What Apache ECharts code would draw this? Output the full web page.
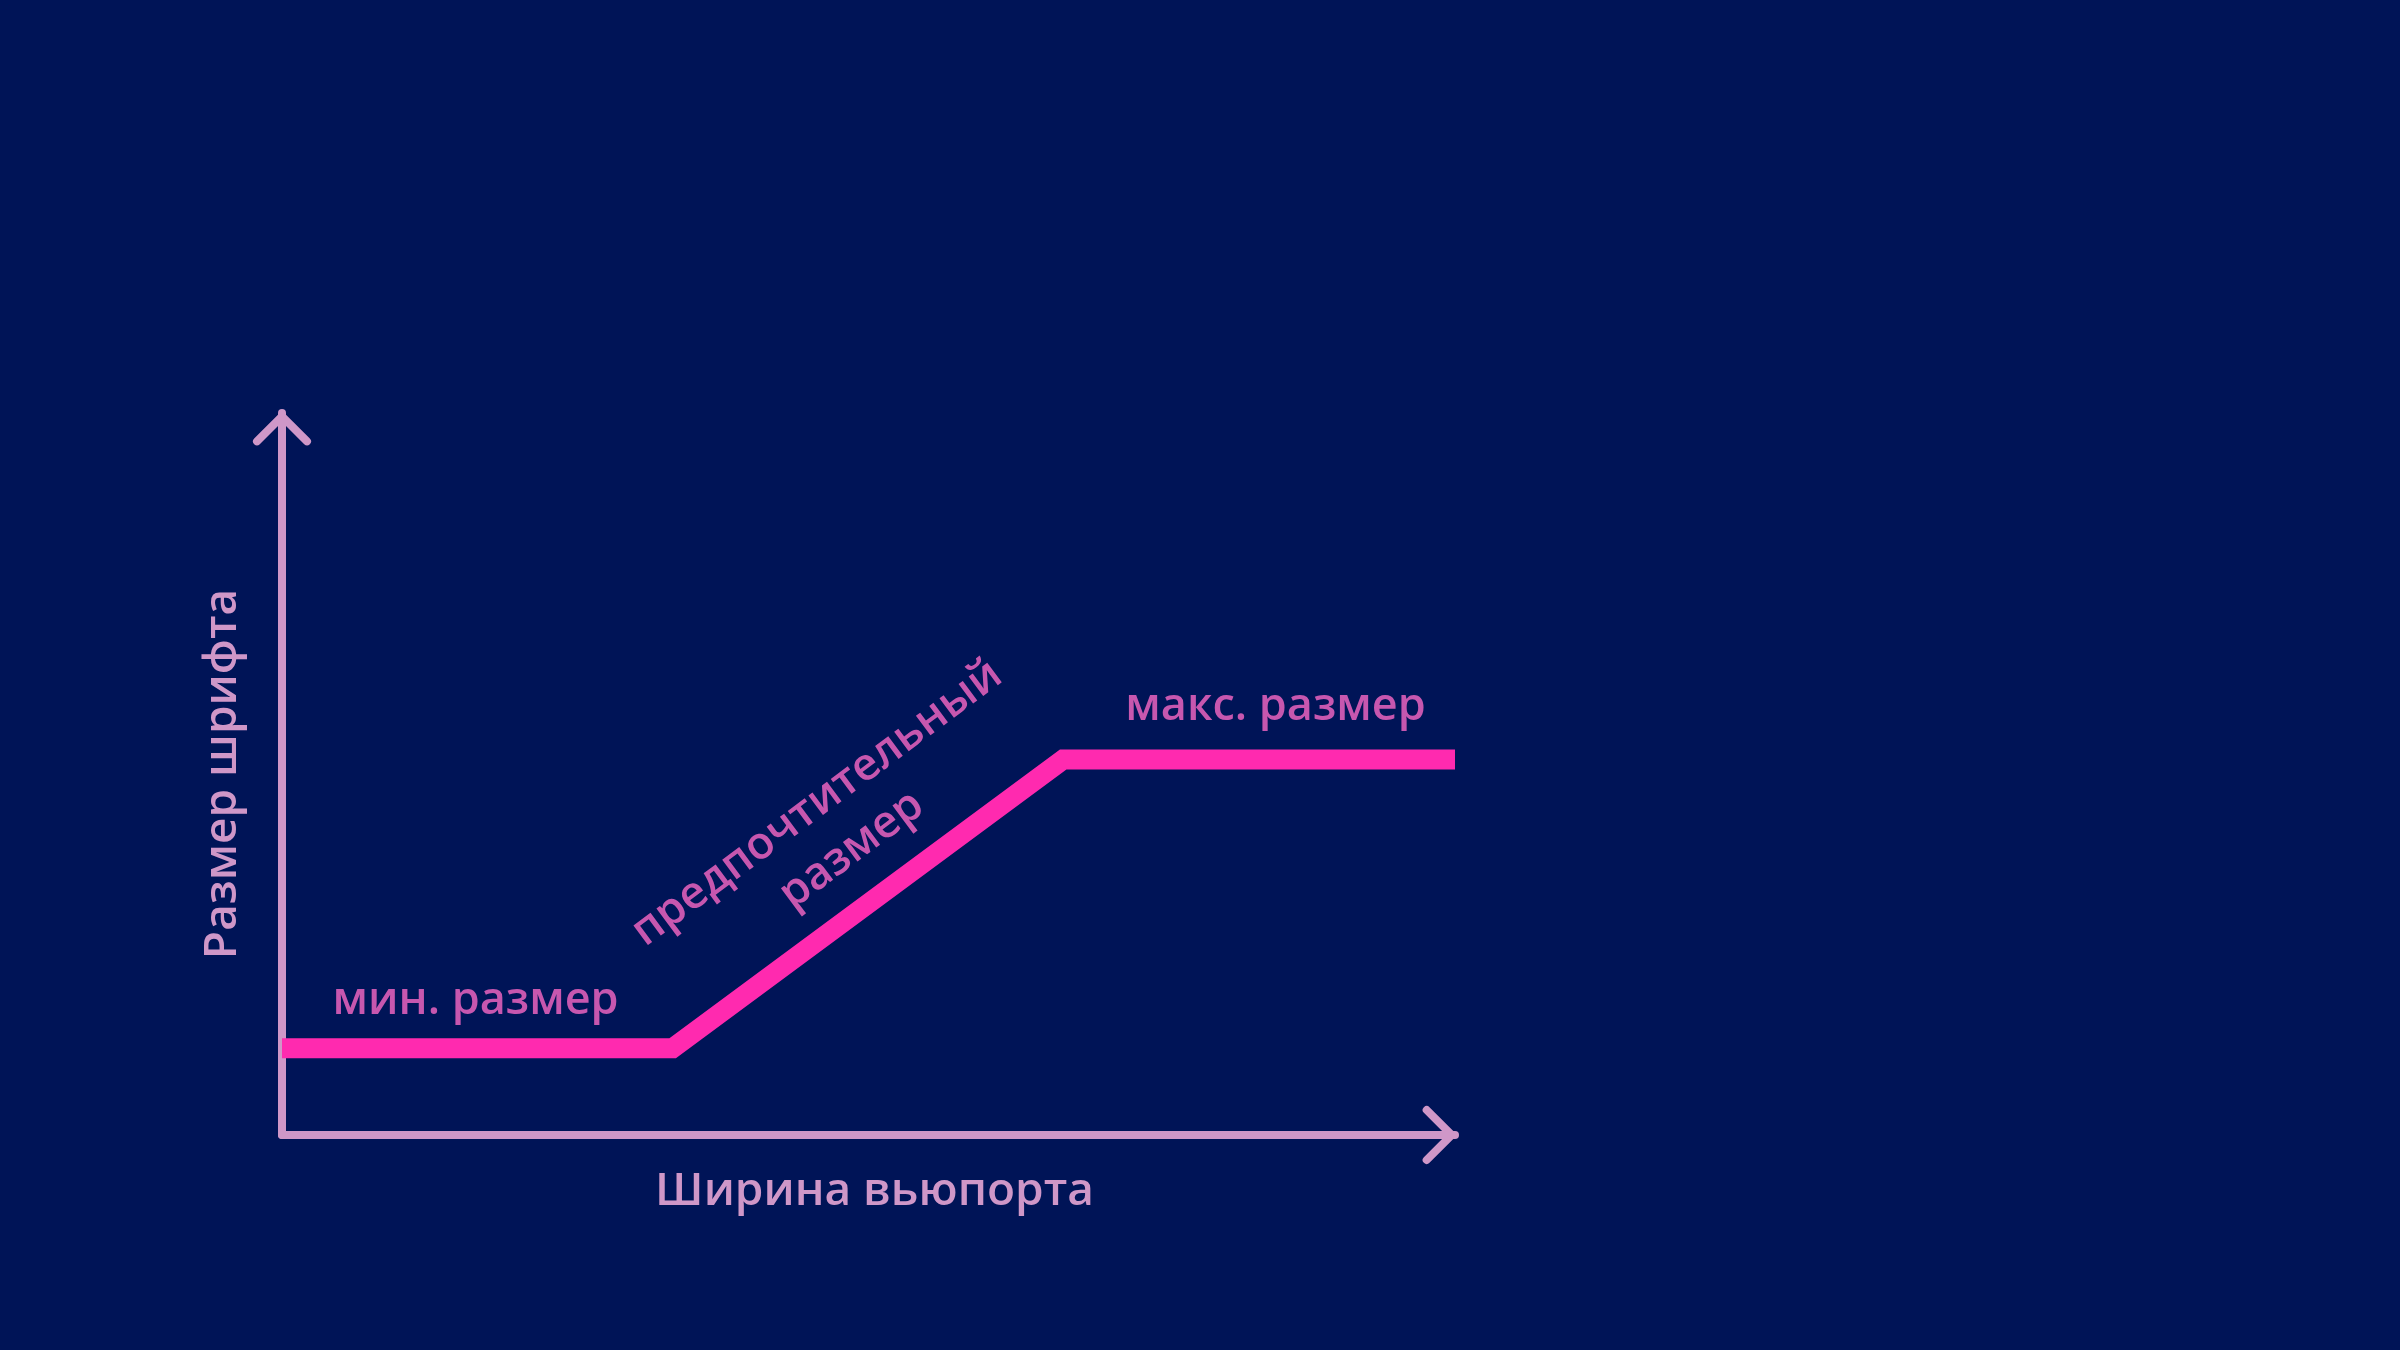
<!DOCTYPE html>
<html>
<head>
<meta charset="utf-8">
<script src="https://cdn.jsdelivr.net/npm/echarts@6/dist/echarts.min.js"></script>
<style>
html,body{margin:0;padding:0;background:#001457;}
#chart{width:2400px;height:1350px;}
</style>
</head>
<body>
<div id="chart"></div>
<script>
// Curve: viewport width (x) vs font size (y), arbitrary 0–100 units
const curveX = [0, 33.3, 66.6, 100];
const curveY = [12, 12, 52, 52];

// Annotations (anchor in data units)
const noteTexts = ['мин. размер', 'макс. размер', 'предпочтительный\nразмер'];
const noteX = [16.5, 84.7, 47.1];
const noteY = [18.6, 59.3, 42.7];
const noteAngles = [0, 0, 36.6];

const xAxisTitle = 'Ширина вьюпорта';
const yAxisTitle = 'Размер шрифта';

const BG = '#001457';
const AXIS = '#cf97c8';
const LINE = '#ff2aaf';
const NOTE = '#f968c6';
const FONT = '"Open Sans", "Noto Sans", sans-serif';

const chevron = 'path://M30 0 L58 28 A4 4 0 0 1 52.34 33.66 L30 11.31 L7.66 33.66 A4 4 0 0 1 2 28 Z';

const axisCommon = {
  type: 'value', min: 0, max: 100,
  axisTick: {show: false}, axisLabel: {show: false}, splitLine: {show: false},
  axisLine: {
    show: true, onZero: false,
    symbol: ['none', chevron], symbolSize: [58, 35], symbolOffset: [0, -15],
    lineStyle: {color: AXIS, width: 8}
  },
  nameLocation: 'middle'
};

const chart = echarts.init(document.getElementById('chart'), null, {renderer: 'canvas'});
chart.setOption({
  backgroundColor: BG,
  animation: false,
  grid: {left: 282, top: 413, right: 945, bottom: 215},
  xAxis: Object.assign({}, axisCommon, {
    name: xAxisTitle, nameGap: 34,
    nameTextStyle: {color: AXIS, fontFamily: FONT, fontWeight: 600, fontSize: 46, padding: [0, 0, 0, 12]}
  }),
  yAxis: Object.assign({}, axisCommon, {
    name: yAxisTitle, nameGap: 36, nameRotate: 90,
    nameTextStyle: {color: AXIS, fontFamily: FONT, fontWeight: 600, fontSize: 46}
  }),
  series: [
    {
      type: 'line', data: curveX.map((x, i) => [x, curveY[i]]),
      symbol: 'none', z: 1,
      lineStyle: {color: LINE, width: 20, join: 'miter', cap: 'butt'}
    },
    {
      type: 'scatter', symbolSize: 0, silent: true,
      data: noteTexts.map((t, i) => ({
        value: [noteX[i], noteY[i]],
        label: {formatter: t, rotate: noteAngles[i]}
      })),
      label: {
        show: true, position: 'inside', align: 'center', verticalAlign: 'middle',
        color: NOTE, fontFamily: FONT, fontWeight: 600, fontSize: 45, lineHeight: 58
      }
    }
  ]
});
</script>
</body>
</html>
